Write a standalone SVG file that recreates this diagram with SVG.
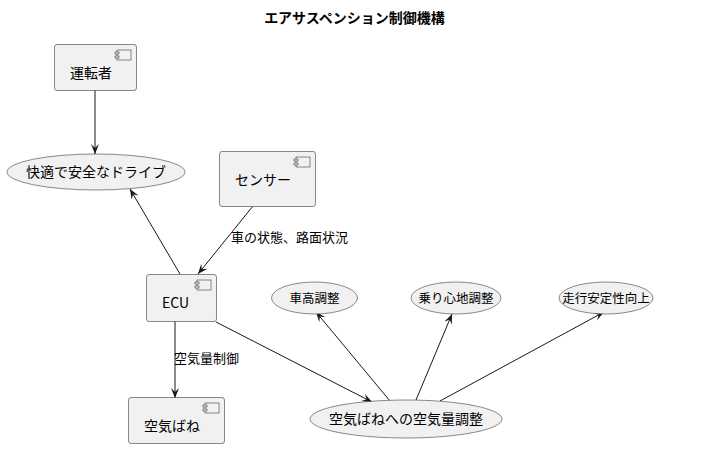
<svg xmlns="http://www.w3.org/2000/svg" width="709" height="449" viewBox="0 0 709 449">
<style>
text{font-family:"Noto Sans CJK JP","Noto Sans","Liberation Sans",sans-serif;fill:#000}
.n{font-size:14px}
.s{font-size:12.5px}
.l{font-size:13px}
.t{font-size:14px;font-weight:bold}
.box{fill:#F1F1F1;stroke:#181818;stroke-width:0.5}
.ic{fill:#F1F1F1;stroke:#181818;stroke-width:0.5}
.uc{fill:#F1F1F1;stroke:#181818;stroke-width:0.5}
.e{stroke:#181818;stroke-width:1;fill:none;marker-end:url(#a)}
</style>
<defs>
<marker id="a" markerUnits="userSpaceOnUse" markerWidth="12" markerHeight="10" refX="10" refY="4" orient="auto">
<path d="M0,0 L10,4 L0,8 L4,4 Z" fill="#181818"/>
</marker>
<g id="icon">
<rect class="ic" x="0" y="0" width="14" height="10"/>
<rect class="ic" x="-2" y="2" width="4" height="2"/>
<rect class="ic" x="-2" y="6" width="4" height="2"/>
</g>
</defs>
<text class="t" x="354.5" y="23" text-anchor="middle">エアサスペンション制御機構</text>
<g id="connectors">
<line class="e" x1="95" y1="90" x2="95" y2="154"/>
<line class="e" x1="180" y1="274" x2="130" y2="189"/>
<line class="e" x1="253" y1="206" x2="198" y2="274"/>
<text class="l" x="231" y="242">車の状態、路面状況</text>
<line class="e" x1="175" y1="321" x2="175" y2="398"/>
<text class="l" x="174" y="363">空気量制御</text>
<line class="e" x1="216" y1="322" x2="372" y2="402"/>
<line class="e" x1="390" y1="401" x2="316" y2="312"/>
<line class="e" x1="416" y1="400" x2="452" y2="314"/>
<line class="e" x1="440" y1="401" x2="604" y2="312"/>
</g>
<g id="driver">
<rect class="box" x="54.5" y="44.5" width="82" height="46" rx="2.5"/>
<use href="#icon" x="117" y="50"/>
<text class="n" x="70" y="78">運転者</text>
</g>
<g id="sensor">
<rect class="box" x="219.5" y="151.5" width="96" height="55" rx="2.5"/>
<use href="#icon" x="296" y="157"/>
<text class="n" x="235" y="185">センサー</text>
</g>
<g id="ecu">
<rect class="box" x="146.5" y="274.5" width="70" height="47" rx="2.5"/>
<use href="#icon" x="197" y="280"/>
<text class="n" x="162" y="308">ECU</text>
</g>
<g id="airspring">
<rect class="box" x="128.5" y="397.5" width="96" height="46" rx="2.5"/>
<use href="#icon" x="205" y="403"/>
<text class="n" x="144" y="431">空気ばね</text>
</g>
<g id="comfort_drive">
<ellipse class="uc" cx="96" cy="172" rx="89" ry="18"/>
<text class="n" x="96" y="177" text-anchor="middle">快適で安全なドライブ</text>
</g>
<g id="height_adj">
<ellipse class="uc" cx="314.5" cy="298" rx="43" ry="16"/>
<text class="s" x="314.5" y="302.5" text-anchor="middle">車高調整</text>
</g>
<g id="ride_adj">
<ellipse class="uc" cx="456" cy="298" rx="45" ry="16"/>
<text class="s" x="456" y="302.5" text-anchor="middle">乗り心地調整</text>
</g>
<g id="stability">
<ellipse class="uc" cx="606" cy="298" rx="47" ry="16"/>
<text class="s" x="606" y="302.5" text-anchor="middle">走行安定性向上</text>
</g>
<g id="air_adj">
<ellipse class="uc" cx="406" cy="419" rx="96" ry="19"/>
<text class="n" x="406" y="424" text-anchor="middle">空気ばねへの空気量調整</text>
</g>
</svg>
